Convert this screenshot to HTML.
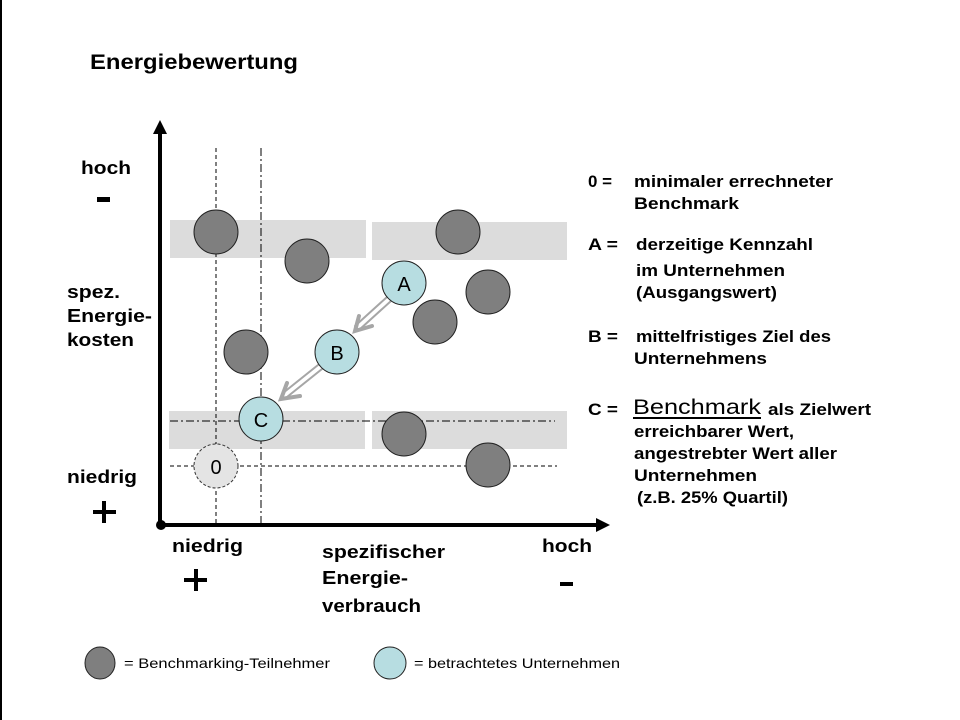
<!DOCTYPE html>
<html><head><meta charset="utf-8"><style>
html,body{margin:0;padding:0;background:#fff;}
svg{display:block;}
.b{font-family:"Liberation Sans",Arial,sans-serif;font-weight:bold;fill:#000;}
.r{font-family:"Liberation Sans",Arial,sans-serif;fill:#000;}
</style></head><body>
<svg width="960" height="720" viewBox="0 0 960 720" xmlns="http://www.w3.org/2000/svg">
<rect x="0" y="0" width="960" height="720" fill="#fff"/>
<line x1="1" y1="0" x2="1" y2="720" stroke="#000" stroke-width="2"/>
<text x="90" y="69" class="b" font-size="21" textLength="208" lengthAdjust="spacingAndGlyphs">Energiebewertung</text>

<rect x="170" y="220" width="196" height="38" fill="#dcdcdc"/>
<rect x="372" y="222" width="195" height="38" fill="#dcdcdc"/>
<rect x="169" y="411" width="196" height="38" fill="#dcdcdc"/>
<rect x="372" y="411" width="195" height="38" fill="#dcdcdc"/>

<line x1="216" y1="148" x2="216" y2="525" stroke="#000" stroke-width="1" stroke-dasharray="4,3"/>
<line x1="261" y1="148" x2="261" y2="525" stroke="#000" stroke-width="1" stroke-dasharray="8,3,2,3"/>
<line x1="170" y1="421" x2="555" y2="421" stroke="#000" stroke-width="1" stroke-dasharray="8,3,2,3"/>
<line x1="170" y1="466" x2="557" y2="466" stroke="#000" stroke-width="1" stroke-dasharray="4,3"/>

<line x1="160" y1="525" x2="160" y2="132" stroke="#000" stroke-width="4"/>
<polygon points="160,120 153,134 167,134" fill="#000"/>
<line x1="160" y1="525" x2="598" y2="525" stroke="#000" stroke-width="4"/>
<polygon points="610,525 596,518 596,532" fill="#000"/>
<circle cx="161" cy="525" r="5" fill="#000"/>

<g fill="#7f7f7f" stroke="#222" stroke-width="1">
<circle cx="216" cy="232" r="22"/>
<circle cx="307" cy="261" r="22"/>
<circle cx="458" cy="232" r="22"/>
<circle cx="488" cy="292" r="22"/>
<circle cx="435" cy="322" r="22"/>
<circle cx="246" cy="352" r="22"/>
<circle cx="404" cy="434" r="22"/>
<circle cx="488" cy="465" r="22"/>
</g>
<circle cx="216" cy="466" r="22" fill="#e4e4e4" stroke="#333" stroke-width="1" stroke-dasharray="3,2"/>
<text x="216" y="474" class="r" font-size="20" text-anchor="middle">0</text>

<g stroke="#a6a6a6" stroke-width="2" fill="none" stroke-linecap="round">
<line x1="391" y1="301" x2="359" y2="330"/>
<line x1="387" y1="297" x2="355" y2="326"/>
<polyline points="359,316 355,331 372,326" stroke-width="4"/>
<line x1="322" y1="369" x2="287" y2="397"/>
<line x1="318" y1="365" x2="283" y2="393"/>
<polyline points="287,383 281,399 300,396" stroke-width="4"/>
</g>

<g fill="#b7dde1" stroke="#222" stroke-width="1">
<circle cx="404" cy="283" r="22"/>
<circle cx="337" cy="352" r="22"/>
<circle cx="261" cy="419" r="22"/>
</g>
<text x="404" y="291" class="r" font-size="20" text-anchor="middle">A</text>
<text x="337" y="360" class="r" font-size="20" text-anchor="middle">B</text>
<text x="261" y="427" class="r" font-size="20" text-anchor="middle">C</text>

<g class="b" font-size="18" lengthAdjust="spacingAndGlyphs">
<text x="81" y="174" textLength="50" lengthAdjust="spacingAndGlyphs">hoch</text>
<text x="67" y="298" textLength="53" lengthAdjust="spacingAndGlyphs">spez.</text>
<text x="67" y="322" textLength="85" lengthAdjust="spacingAndGlyphs">Energie-</text>
<text x="67" y="346" textLength="67" lengthAdjust="spacingAndGlyphs">kosten</text>
<text x="67" y="483" textLength="70" lengthAdjust="spacingAndGlyphs">niedrig</text>
<text x="172" y="552" textLength="71" lengthAdjust="spacingAndGlyphs">niedrig</text>
<text x="322" y="558" textLength="123" lengthAdjust="spacingAndGlyphs">spezifischer</text>
<text x="322" y="584" textLength="86" lengthAdjust="spacingAndGlyphs">Energie-</text>
<text x="322" y="612" textLength="99" lengthAdjust="spacingAndGlyphs">verbrauch</text>
<text x="542" y="552" textLength="50" lengthAdjust="spacingAndGlyphs">hoch</text>
</g>
<rect x="97" y="197" width="13" height="5" fill="#000"/>
<rect x="93" y="510" width="23" height="4" fill="#000"/>
<rect x="102" y="501" width="4" height="22" fill="#000"/>
<rect x="184" y="578" width="23" height="4" fill="#000"/>
<rect x="194" y="569" width="4" height="22" fill="#000"/>
<rect x="560" y="582" width="13" height="4" fill="#000"/>

<g class="b" font-size="17">
<text x="588" y="187" textLength="24" lengthAdjust="spacingAndGlyphs">0 =</text>
<text x="634" y="187" textLength="199" lengthAdjust="spacingAndGlyphs">minimaler errechneter</text>
<text x="634" y="209" textLength="105" lengthAdjust="spacingAndGlyphs">Benchmark</text>
<text x="588" y="250" textLength="30" lengthAdjust="spacingAndGlyphs">A =</text>
<text x="636" y="250" textLength="177" lengthAdjust="spacingAndGlyphs">derzeitige Kennzahl</text>
<text x="636" y="276" textLength="149" lengthAdjust="spacingAndGlyphs">im Unternehmen</text>
<text x="636" y="298" textLength="141" lengthAdjust="spacingAndGlyphs">(Ausgangswert)</text>
<text x="588" y="342" textLength="30" lengthAdjust="spacingAndGlyphs">B =</text>
<text x="636" y="342" textLength="195" lengthAdjust="spacingAndGlyphs">mittelfristiges Ziel des</text>
<text x="634" y="364" textLength="133" lengthAdjust="spacingAndGlyphs">Unternehmens</text>
<text x="588" y="415" textLength="30" lengthAdjust="spacingAndGlyphs">C =</text>
<text x="768" y="415" textLength="103" lengthAdjust="spacingAndGlyphs">als Zielwert</text>
<text x="634" y="437" textLength="160" lengthAdjust="spacingAndGlyphs">erreichbarer Wert,</text>
<text x="634" y="459" textLength="203" lengthAdjust="spacingAndGlyphs">angestrebter Wert aller</text>
<text x="634" y="481" textLength="123" lengthAdjust="spacingAndGlyphs">Unternehmen</text>
<text x="637" y="503" textLength="151" lengthAdjust="spacingAndGlyphs">(z.B. 25% Quartil)</text>
</g>
<text x="633" y="414" class="r" font-size="21" textLength="128" lengthAdjust="spacingAndGlyphs">Benchmark</text>
<rect x="633" y="417" width="128" height="2" fill="#000"/>

<ellipse cx="100" cy="663" rx="15" ry="16" fill="#7f7f7f" stroke="#222" stroke-width="1"/>
<text x="124" y="668" class="r" font-size="14" textLength="206" lengthAdjust="spacingAndGlyphs">= Benchmarking-Teilnehmer</text>
<ellipse cx="390" cy="663" rx="16" ry="16" fill="#b7dde1" stroke="#222" stroke-width="1"/>
<text x="414" y="668" class="r" font-size="14" textLength="206" lengthAdjust="spacingAndGlyphs">= betrachtetes Unternehmen</text>
</svg>
</body></html>
